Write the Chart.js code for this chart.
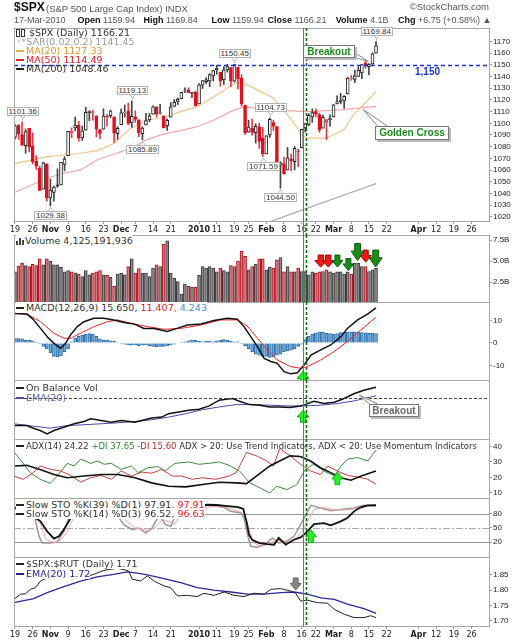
<!DOCTYPE html>
<html>
<head>
<meta charset="utf-8">
<title>$SPX daily</title>
<script src="https://cdn.jsdelivr.net/npm/chart.js@4.4.1/dist/chart.umd.min.js"></script>
<style>
body{margin:0;width:529px;height:640px;position:relative;overflow:hidden;background:#fff;font-family:"DejaVu Sans",Verdana,sans-serif;color:#333}
canvas.pn{position:absolute;left:0;z-index:1}
#overlay{position:absolute;left:0;top:0;z-index:2;pointer-events:none}
.t,.h{position:absolute;white-space:nowrap;z-index:3}
.t{font-size:9.5px;line-height:11px}
.bg span{background:#fff}
.h{font-family:"Liberation Sans",Arial,sans-serif;font-size:9.5px;line-height:11px;color:#555}
.r2{font-size:9px}
.h b{color:#111}
.d{display:inline-block;width:8px;height:2px;vertical-align:middle;margin:0 2px 1px 0}
.ci{display:inline-block;width:2px;height:6px;border:1px solid #333;margin-right:1px;vertical-align:-1px;background:#fff}
.vb{display:inline-block;width:2px;background:#444;margin-right:1px;vertical-align:-1px}
.call{position:absolute;z-index:3;background:#fff;border:1px solid #777;box-shadow:2px 2px 0 #bbb;font:bold 10px "Liberation Sans",Arial,sans-serif;line-height:11px;text-align:center;box-sizing:border-box}
.pk{position:absolute;z-index:3;background:#fff;border:1px solid #b4b4b4;font:8px "Liberation Sans",Arial,sans-serif;line-height:7px;padding:0 1px;color:#333}
</style>
</head>
<body>
<canvas class="pn" id="cPrice" width="529" height="207" style="top:28px"></canvas>
<canvas class="pn" id="cVol" width="529" height="68" style="top:235px"></canvas>
<canvas class="pn" id="cMacd" width="529" height="79" style="top:302px"></canvas>
<canvas class="pn" id="cObv" width="529" height="60" style="top:380px"></canvas>
<canvas class="pn" id="cAdx" width="529" height="60" style="top:439px"></canvas>
<canvas class="pn" id="cSto" width="529" height="60" style="top:498px"></canvas>
<canvas class="pn" id="cRatio" width="529" height="83" style="top:557px"></canvas>
<canvas id="overlay" width="529" height="640"></canvas>

<div class="h" style="left:14px;top:1px;font-weight:bold;font-size:12px;line-height:13px;color:#111">$SPX</div>
<div class="h" style="left:46px;top:3px">(S&amp;P 500 Large Cap Index) INDX</div>
<div class="h" style="right:40px;top:1px">&copy;StockCharts.com</div>
<div class="h r2" style="left:14px;top:15px">17-Mar-2010</div>
<div class="h r2" style="left:77.6px;top:15px"><b>Open</b> 1159.94</div>
<div class="h r2" style="left:143.4px;top:15px"><b>High</b> 1169.84</div>
<div class="h r2" style="left:211.5px;top:15px"><b>Low</b> 1159.94</div>
<div class="h r2" style="left:267.5px;top:15px"><b>Close</b> 1166.21</div>
<div class="h r2" style="left:335.7px;top:15px"><b>Volume</b> 4.1B</div>
<div class="h r2" style="left:398px;top:15px"><b>Chg</b> +6.75 (+0.58%) &#9650;</div>

<div class="t" style="left:16px;top:26.5px"><i class="ci"></i><i class="ci"></i> $SPX (Daily) 1166.21</div>
<div class="t" style="left:16px;top:35.5px;color:#999">&#9702;*SAR(0.02,0.2) 1141.45</div>
<div class="t" style="left:16px;top:44.5px;color:#d9952e"><i class="d" style="background:#e8a850"></i>MA(20) 1127.33</div>
<div class="t" style="left:16px;top:53.5px;color:#e0202a"><i class="d" style="background:#e0202a"></i>MA(50) 1114.49</div>
<div class="t" style="left:16px;top:62.5px"><i class="d" style="background:#222"></i>MA(200) 1048.46</div>

<div class="t bg" style="left:16px;top:234.5px"><span><i class="vb" style="height:4px"></i><i class="vb" style="height:7px"></i><i class="vb" style="height:5px"></i>Volume 4,125,191,936</span></div>
<div class="t bg" style="left:16px;top:302px"><span><i class="d" style="background:#222"></i>MACD(12,26,9) 15.650, <b style="font-weight:normal;color:#e02020">11.407,</b> <b style="font-weight:normal;color:#4a90d0">4.243</b></span></div>
<div class="t" style="left:16px;top:382px"><i class="d" style="background:#222"></i>On Balance Vol</div>
<div class="t" style="left:16px;top:391.5px;color:#5a66b0"><i class="d" style="background:#4a4aa8"></i>EMA(20)</div>
<div class="t" style="left:16px;top:441px;font-size:8.5px"><i class="d" style="background:#222"></i>ADX(14) 24.22 <span style="color:#2f8a2f">+DI 37.65</span> <span style="color:#b03030">-DI 15.60</span> ADX &gt; 20: Use Trend Indicators, ADX &lt; 20: Use Momentum Indicators</div>
<div class="t bg" style="left:16px;top:498.5px"><span><i class="d" style="background:#222"></i>Slow STO %K(39) %D(1) 97.91, <b style="font-weight:normal;color:#e02020">97.91</b></span></div>
<div class="t bg" style="left:16px;top:507.5px"><span><i class="d" style="background:#222"></i>Slow STO %K(14) %D(3) 96.52, <b style="font-weight:normal;color:#e02020">96.63</b></span></div>
<div class="t bg" style="left:16px;top:557.5px"><span><i class="d" style="background:#222"></i>$SPX:$RUT (Daily) 1.71</span></div>
<div class="t bg" style="left:16px;top:567.5px;color:#22229a"><span><i class="d" style="background:#22229a"></i>EMA(20) 1.72</span></div>
<div class="h" style="left:415px;top:66px;font-weight:bold;color:#1a35d0;font-size:10px">1,150</div>

<script>
// trading days shown (index 0 = Oct 19, 2009)
const dates = ('Oct 19,Oct 20,Oct 21,Oct 22,Oct 23,Oct 26,Oct 27,Oct 28,Oct 29,Oct 30,' +
  'Nov 2,Nov 3,Nov 4,Nov 5,Nov 6,Nov 9,Nov 10,Nov 11,Nov 12,Nov 13,Nov 16,Nov 17,Nov 18,Nov 19,Nov 20,Nov 23,Nov 24,Nov 25,Nov 27,Nov 30,' +
  'Dec 1,Dec 2,Dec 3,Dec 4,Dec 7,Dec 8,Dec 9,Dec 10,Dec 11,Dec 14,Dec 15,Dec 16,Dec 17,Dec 18,Dec 21,Dec 22,Dec 23,Dec 24,Dec 28,Dec 29,Dec 30,Dec 31,' +
  'Jan 4,Jan 5,Jan 6,Jan 7,Jan 8,Jan 11,Jan 12,Jan 13,Jan 14,Jan 15,Jan 19,Jan 20,Jan 21,Jan 22,Jan 25,Jan 26,Jan 27,Jan 28,Jan 29,' +
  'Feb 1,Feb 2,Feb 3,Feb 4,Feb 5,Feb 8,Feb 9,Feb 10,Feb 11,Feb 12,Feb 16,Feb 17,Feb 18,Feb 19,Feb 22,Feb 23,Feb 24,Feb 25,Feb 26,' +
  'Mar 1,Mar 2,Mar 3,Mar 4,Mar 5,Mar 8,Mar 9,Mar 10,Mar 11,Mar 12,Mar 15,Mar 16,Mar 17').split(',');

const prevClose = 1087.68;
const opens = [1088.2,1098.6,1090.4,1080.9,1095.6,1080.4,1067.5,1061.5,1043.7,1065.4,
  1036.2,1040.9,1047.1,1047.3,1064.9,1072.3,1091.9,1096.0,1098.3,1087.6,1094.1,1109.2,1109.4,1106.4,1094.7,1094.9,1106.0,1106.5,1105.5,1091.1,
  1098.9,1109.0,1110.6,1100.4,1105.5,1103.0,1091.1,1098.7,1103.0,1107.8,1114.1,1108.6,1106.4,1097.9,1105.3,1114.5,1118.8,1121.1,1127.5,1128.6,1125.5,1126.6,
  1116.6,1132.7,1135.7,1136.3,1140.5,1145.9,1143.8,1137.3,1145.7,1147.7,1136.0,1147.9,1138.7,1115.5,1092.4,1095.8,1091.9,1096.9,1087.6,
  1073.9,1090.1,1100.7,1097.3,1064.1,1065.5,1060.1,1069.7,1067.1,1075.9,1079.1,1096.1,1099.0,1105.5,1110.0,1107.5,1095.9,1101.2,1103.1,
  1105.4,1117.0,1119.4,1119.1,1125.1,1138.4,1137.6,1140.2,1143.0,1151.7,1148.5,1150.8,1159.94];
const highs = [1099.0,1098.6,1101.36,1095.2,1095.8,1091.8,1072.5,1063.3,1066.8,1065.4,
  1052.2,1046.4,1061.0,1066.7,1071.5,1093.2,1096.1,1105.4,1101.7,1097.6,1113.7,1110.8,1111.1,1106.4,1094.7,1112.4,1107.6,1111.2,1105.5,1097.2,
  1112.3,1115.6,1117.3,1119.13,1110.7,1103.0,1097.0,1108.5,1108.5,1114.9,1114.1,1116.2,1106.4,1103.7,1117.7,1120.3,1121.6,1126.5,1130.4,1130.4,1126.4,1127.6,
  1133.9,1136.6,1139.2,1142.5,1145.4,1149.7,1143.8,1148.4,1150.4,1147.8,1150.45,1147.9,1141.6,1115.5,1102.6,1103.7,1099.5,1100.2,1096.5,
  1089.4,1104.73,1102.7,1097.3,1067.1,1071.2,1079.3,1073.7,1080.0,1077.8,1095.0,1100.1,1108.2,1112.4,1112.3,1108.6,1107.0,1103.5,1107.2,
  1116.1,1123.5,1125.6,1123.7,1139.4,1141.1,1145.4,1148.3,1150.2,1153.4,1151.0,1160.3,1169.84];
const lows = [1086.5,1086.2,1080.8,1074.3,1075.5,1065.2,1060.6,1042.2,1043.7,1033.4,
  1029.38,1033.4,1045.2,1047.3,1059.3,1072.3,1087.7,1093.8,1084.7,1085.3,1094.1,1102.2,1102.7,1088.4,1086.8,1094.9,1097.6,1104.8,1083.7,1086.3,
  1098.9,1105.3,1098.7,1096.5,1100.8,1088.6,1085.89,1098.7,1101.3,1107.8,1105.4,1107.9,1095.9,1093.9,1105.3,1114.5,1116.0,1121.1,1126.1,1126.2,1121.9,1114.8,
  1116.6,1129.7,1133.9,1131.3,1136.2,1142.0,1131.8,1133.2,1143.8,1131.4,1135.2,1129.3,1114.8,1090.2,1092.4,1089.9,1083.1,1078.5,1071.59,
  1073.9,1088.0,1093.9,1062.8,1044.5,1056.5,1060.1,1059.3,1060.1,1063.0,1079.1,1092.6,1097.8,1100.8,1105.4,1092.2,1095.9,1086.0,1097.6,
  1105.4,1116.5,1116.6,1112.7,1125.1,1136.8,1134.9,1140.1,1138.1,1147.0,1141.5,1150.3,1159.94];
const closes = [1097.9,1091.1,1081.4,1092.9,1079.6,1067.0,1063.4,1042.6,1066.1,1036.2,
  1042.9,1045.4,1046.5,1066.6,1069.3,1093.1,1093.0,1098.5,1087.2,1093.5,1109.3,1110.3,1109.8,1094.9,1091.4,1106.2,1105.7,1110.6,1091.5,1095.6,
  1108.9,1109.2,1099.9,1106.0,1103.3,1091.9,1096.0,1102.4,1106.4,1114.1,1107.9,1109.2,1096.1,1102.5,1114.1,1118.0,1120.6,1126.5,1127.8,1126.2,1126.4,1115.1,
  1133.0,1136.5,1137.1,1141.7,1145.0,1147.0,1136.2,1145.7,1148.5,1136.0,1150.2,1138.0,1116.5,1091.8,1096.8,1092.2,1097.5,1084.5,1073.9,
  1089.2,1103.3,1097.3,1063.1,1066.2,1056.7,1070.5,1068.1,1078.5,1075.5,1094.9,1099.5,1106.8,1109.2,1108.0,1094.6,1105.2,1102.9,1104.5,
  1115.7,1118.3,1118.8,1123.0,1138.7,1138.5,1140.5,1145.6,1150.2,1150.0,1150.5,1159.5,1166.21];
// volume, billions of shares
const volumes = [3.7,4.4,4.75,4.45,4.35,4.6,4.45,5.25,4.55,5.25,
  5.0,4.55,4.55,4.25,3.7,3.85,3.7,3.6,3.45,3.15,
  3.85,3.35,3.55,3.7,3.85,3.35,3.3,3.05,2.0,3.45,
  3.55,3.35,4.35,5.25,3.55,4.1,3.55,3.55,3.15,4.15,
  4.55,4.35,7.0,7.4,3.55,2.95,2.55,1.05,2.25,2.0,
  1.9,1.9,3.3,4.35,4.15,4.35,4.15,3.7,4.15,3.85,
  3.7,4.45,4.35,5.0,6.15,5.55,3.95,4.35,4.65,5.25,
  5.25,3.95,4.25,4.15,5.15,5.4,3.7,4.35,3.7,3.7,
  4.15,3.75,3.75,3.35,3.7,3.55,3.7,3.75,3.95,3.7,
  3.55,3.7,3.7,3.45,3.7,3.45,4.75,4.75,4.35,4.35,
  3.75,3.95,4.13];

// overlays as [day index, value]
const ma20Pts = [[-0.3,1065.2],[9.1,1071.5],[13.8,1072.9],[18.5,1074.4],[23.2,1076.6],[28,1082.9],[32.7,1095.7],[37.4,1102.8],[42.1,1105.2],[46.8,1110],[51.5,1114.2],[56.2,1122.8],[60.9,1131.9],[63.5,1136],[68.3,1128.8],[73,1121.7],[77.7,1104.6],[81,1090.3],[82.5,1087.4],[87.2,1087.4],[89.1,1088.9],[92.9,1094.5],[95.7,1107.4],[98.5,1115.9],[102,1127.33]];
const ma50Pts = [[-0.3,1040.7],[9.1,1053],[13.8,1057.3],[18.5,1060.1],[23.2,1068.6],[28,1073.8],[32.7,1078.6],[37.4,1086.3],[42.1,1090.9],[46.8,1093.7],[51.5,1097.1],[56.2,1102.8],[60.9,1110],[64.5,1114],[68,1113],[73,1111.5],[82,1110],[92,1111.5],[102,1114.49]];
const ma200Pts = [[70,1013.6],[82,1026.8],[92,1037.6],[102,1048.46]];

const macdPts = [[-0.3,13.2],[3.4,12.9],[5.3,10.3],[7.2,6.5],[9.1,2.8],[11,-0.2],[12.9,-2.4],[14.3,-0.2],[15.7,3.6],[17.6,7.3],[19.5,9.5],[22.3,11],[25.1,11],[27.9,10.3],[30.8,9.1],[33.6,8.5],[36.4,6.5],[39.3,6.5],[43,5.1],[45.8,6.5],[48.7,8],[52.5,8.5],[56.2,10],[60,11],[62.8,10.6],[64.7,7.3],[66.6,2.8],[68.5,-1.6],[70.4,-6.9],[72.3,-8.3],[74.1,-9.1],[76,-12.8],[77.9,-13.8],[79.8,-13.3],[81.7,-9.8],[83.6,-5.4],[86.4,-3.1],[89.2,-0.9],[92.1,2.8],[93.9,6.5],[96.8,10.3],[99.6,12.9],[102,15.65]];
const signalPts = [[-0.3,13.2],[3.4,12.9],[7.2,9.5],[11,4.3],[13.8,2.1],[15.7,2.1],[18.5,4.3],[22.3,7.3],[26.1,9.5],[28.9,10.3],[32.7,8.8],[37.4,7.3],[42.1,6.1],[46.8,6.5],[52.5,8],[58.1,10.3],[62.8,10.3],[65.6,7.6],[68.5,2.1],[71.3,-3.1],[74.1,-7.6],[77.9,-10.6],[80.7,-11.3],[82.6,-10.6],[86.4,-7.6],[90.1,-3.9],[93.9,0.6],[97.7,5.8],[100.5,9.5],[102,11.407]];
const histVals = [2.0,2.0,1.8,1.3,1.2,1.0,0.4,-0.3,-1.5,-2.5,
  -4.5,-6.0,-6.2,-5.8,-4.0,-2.5,0.5,2.2,3.0,3.5,
  4.0,4.2,4.0,3.0,1.8,1.2,1.2,1.0,0.8,0.2,
  -0.2,-0.5,-0.8,-1.0,-0.9,-1.2,-1.0,-0.9,-1.2,-1.5,
  -1.7,-1.5,-1.6,-1.2,-0.8,-0.5,0.0,0.3,0.5,1.0,
  1.3,1.2,0.8,0.5,0.7,0.8,0.5,0.9,1.2,1.5,
  1.2,0.8,0.3,0.5,-0.2,-1.2,-2.5,-4.0,-5.0,-5.5,
  -6.0,-6.0,-6.5,-6.2,-5.5,-5.0,-4.0,-3.5,-3.2,-2.5,
  -1.5,-0.5,1.5,3.0,4.0,4.5,5.0,4.8,4.3,4.2,
  4.0,4.2,4.6,4.8,4.9,5.0,5.0,4.8,4.6,4.5,
  4.3,4.3,4.243];

// OBV has no printed scale: values are relative (0 = panel bottom, 100 = near top)
const obvPts = [[-0.3,24.6],[3.3,24.6],[5.2,20],[7.1,16],[9.1,10.3],[11,16],[13.8,21.7],[16.7,27.5],[19.5,31.4],[21.4,36],[24.3,33.2],[27.2,30.3],[30,33.2],[33.9,30.3],[35.8,33.2],[38.6,37.1],[41.5,38.8],[43.4,44.6],[46.3,47.5],[49.1,50.3],[52,52],[54.9,57.8],[57.7,67.5],[59.6,69.2],[61.5,70.3],[63.4,65.8],[66.3,60],[69.2,59],[72,56],[74.8,56],[77.7,55],[80.6,57.8],[82,60],[84.4,65.8],[87.3,61.7],[90.2,64],[93,70.3],[95.9,78.8],[98.8,84.6],[102,89.5]];
const obvEmaPts = [[-0.3,27.5],[5.2,23.4],[10,20],[14.8,24.6],[19.5,25.8],[24.3,27.5],[29.1,29.2],[33.9,31.4],[38.6,34.3],[43.4,38.8],[48.2,44.6],[53,51.4],[57.7,56],[62.5,60],[67.3,60],[72,59],[76.8,57.8],[81.5,57.8],[86.3,59],[91,61.7],[95.9,66.4],[102,75]];

const adxPts = [[-0.3,27.4],[3.3,27.8],[7.1,25.2],[11,21.9],[14.8,19.8],[19.5,20.9],[24.3,21.9],[29.1,21.9],[33.9,19.8],[38.6,16.5],[43.4,14.3],[48.2,13.9],[53,15.4],[57.7,16.9],[62.5,16.5],[65.4,16],[68.2,20.9],[72,27.4],[74.8,30.6],[77.7,33.9],[80.6,33.5],[83.5,30.6],[86.3,26.3],[89.2,23.1],[92.1,19.8],[94.9,18.2],[97.8,20.9],[102,24.22]];
const plusDiPts = [[-0.3,36.5],[1.4,31.8],[4.3,23.1],[7.1,18.8],[10,16.2],[11.9,20.9],[14.8,29.1],[16.7,27.4],[18.6,31.8],[21.4,29.1],[23.3,30.6],[25.2,28.5],[27.2,29.1],[30,25.2],[32.9,27.4],[34.8,23.1],[37.6,26.3],[40.5,27],[42.4,24.2],[45.2,29.1],[49.1,30],[51.9,28.5],[54.8,29.1],[57.7,30],[60.5,27.8],[63.4,24.2],[66.3,16.5],[69.2,13.3],[72,10],[73.9,14.3],[76.8,12.2],[79.6,15.4],[82,25.2],[84.4,28.5],[87.3,24.2],[90.2,20.9],[92.1,27.4],[94,31.8],[96.8,32.8],[99.7,30.6],[102,37.65]];
const minusDiPts = [[-0.3,20.9],[2.3,18.8],[5.2,23.1],[7.1,27.4],[10,25.2],[12.9,24.2],[15.7,21.3],[18.6,17],[21.4,19.8],[24.3,21.3],[27.2,18.8],[30,24.2],[32.9,20.9],[35.8,23.5],[38.6,22.7],[41.5,25.2],[44.4,20.9],[47.2,20.9],[50.1,18.8],[53,19.8],[56.8,18.8],[60.5,20.9],[62.5,23.1],[65.4,36.1],[68.2,34],[71.1,30.6],[73,27.4],[74.8,38.7],[77.7,34],[80.6,28.5],[83.5,24.2],[86.3,21.9],[88.3,27.4],[91,24.2],[94,21.3],[96.8,20.3],[99.7,18.8],[102,15.6]];

const k39Pts = [[-0.3,92],[3,88],[5.8,70.9],[7.2,63.8],[9.1,42.6],[11,27.1],[12.4,32],[13.8,46.2],[15.2,63.8],[16.6,81.5],[19,90],[22,94],[25,92],[28,86],[30.5,76],[33,73],[36,70],[38.5,72],[41,80],[44,81.5],[45.9,92],[49,95],[52,97],[54.3,99],[57,98.5],[60,96],[63,94],[64.5,90],[65.5,60],[66.1,35.5],[67,24.9],[69,17.8],[71.3,15.7],[73.2,14.3],[74.5,28.5],[76.5,14.3],[78.8,24.9],[80.7,29.9],[82.6,42.6],[84.5,58.1],[87.3,60.2],[89.2,55.3],[92,63.8],[93.9,70.9],[95.8,85],[97.7,93.5],[99.6,97.5],[102,97.91]];
const k14Pts = [[-0.3,95],[3,90],[5.3,81.5],[6.8,32],[7.7,17.8],[10,17.8],[11.9,20],[13.8,42.6],[15.2,70.9],[16.5,85],[20,92],[24,95],[28,85],[30.8,56.9],[33.1,46.2],[35,49.8],[36.9,39.2],[38.8,49.8],[40.7,78],[42.5,56.9],[44,53.4],[45.9,85],[48,92],[51,88.8],[52.5,85],[54.3,99],[57,96],[59,93.5],[60.9,85],[63.8,81.5],[64.7,70.9],[65.7,35.5],[66.6,10.9],[68.5,8.8],[70.5,14.3],[72.7,28.5],[74.6,17.8],[77,22.7],[78.8,32],[80.7,56.9],[82.2,78],[83.6,97.8],[86.4,92.1],[89.2,86.5],[92,88.8],[95.8,92.1],[98.6,97.8],[102,96.52]];
const d3Pts = [[-0.3,93],[4,90],[6.3,78],[7.8,45],[8.8,25],[11,18.5],[12.9,24],[14.8,43],[16.2,65],[17.5,82],[21,91],[25,94],[29,83],[31.8,62],[34,50],[36,47],[37.9,43],[39.8,52],[41.7,68],[43.5,63],[45,58],[46.9,78],[49,90],[52,89],[53.5,88],[55.3,95],[58,96],[60,93],[62,88],[64.7,80],[65.7,60],[66.6,35],[67.5,18],[69.5,11],[71.5,15],[73.7,24],[75.6,22],[78,22],[79.8,30],[81.7,50],[83.2,72],[84.6,90],[87.4,93],[90.2,88],[93,88],[96.8,91],[99.6,96],[102,96.63]];

const ratioPts = [[-0.3,1.770],[1.6,1.787],[3,1.788],[4.4,1.803],[5.8,1.808],[7.2,1.830],[9,1.84],[12,1.845],[15,1.86],[18.5,1.874],[19.9,1.844],[22.3,1.852],[24.6,1.863],[26.5,1.868],[29,1.872],[31.2,1.866],[32.2,1.862],[33.1,1.836],[35.5,1.830],[37.4,1.847],[39.3,1.830],[42.1,1.814],[44,1.808],[45.9,1.781],[48.7,1.783],[51.5,1.779],[53.4,1.790],[56.2,1.783],[59.1,1.794],[61.9,1.783],[64.7,1.779],[67.5,1.790],[70.4,1.787],[72.3,1.803],[75.1,1.805],[77.9,1.797],[79.3,1.790],[80.7,1.764],[82.6,1.767],[85.5,1.759],[88.3,1.757],[90.2,1.737],[93,1.721],[95.8,1.710],[98.6,1.710],[100.5,1.716],[102,1.71]];
const ratioEmaPts = [[-0.3,1.759],[5.3,1.772],[9.1,1.792],[13.8,1.812],[18.5,1.830],[23.2,1.844],[27.9,1.852],[31.7,1.860],[34.5,1.856],[37.4,1.850],[42.1,1.838],[46.8,1.825],[51.5,1.808],[56.2,1.800],[61,1.794],[65.7,1.787],[70.4,1.787],[75.1,1.792],[78.8,1.794],[82.6,1.787],[86.4,1.775],[90.2,1.770],[93.9,1.754],[98.6,1.739],[102,1.724]];

// axis labels
const dateTickIdx = [0,5,10,15,20,25,30,34,39,44,52,57,62,66,71,76,81,85,90,95,100,105,114,119,124,129];
const dateTickLabels = ['19','26','Nov','9','16','23','Dec','7','14','21','2010','11','19','25','Feb','8','16','22','Mar','8','15','22','Apr','12','19','26'];
const priceTicks = [1020,1030,1040,1050,1060,1070,1080,1090,1100,1110,1120,1130,1140,1150,1160,1170];
const volTicks = [2.5,5,7.5];
const macdTicks = [-10,0,10];
const adxTicks = [10,20,30,40];
const stoTicks = [20,50,80];
const ratioTicks = [1.70,1.75,1.80,1.85];

// labelled highs / lows
const peakIdx = [2,10,33,36,62,70,72,75,102];
const peakVals = [1101.36,1029.38,1119.13,1085.89,1150.45,1071.59,1104.73,1044.50,1169.84];
const peakSide = ['hi','lo','hi','lo','hi','lo','hi','lo','hi'];

// annotations
const eventLines = [{x:81.4,color:'#3a9a3a',w:1,dash:[]},{x:82.2,color:'#0e6e0e',w:1.6,dash:[3,2]}];
const green = {color:'#1a8c1a',edge:'#0c5c0c'}, red = {color:'#f01818',edge:'#b00000'}, lime = {color:'#2bee2b',edge:'#18b018'}, grey = {color:'#858585',edge:'#666'};
const volArrows = [
  {x:86.4,y:4.28,dir:'down',w:12,h:12,...red},{x:88.5,y:4.28,dir:'down',w:12,h:12,...red},
  {x:91.1,y:4.28,dir:'down',w:11,h:12,...green},{x:94.2,y:3.87,dir:'down',w:11,h:12,...green},
  {x:96.8,y:5.06,dir:'down',w:13,h:17,...green},{x:99.1,y:4.87,dir:'down',w:11,h:12,...red},
  {x:101.9,y:4.28,dir:'down',w:13,h:17,...green}];
const macdArrows = [{x:81.4,y:-12.5,dir:'up',w:12,h:14,...lime}];
const obvArrows = [{x:81.4,y:50.3,dir:'up',w:12,h:12,...lime}];
const adxArrows = [{x:91.1,y:23.4,dir:'up',w:11,h:12.5,...lime}];
const stoArrows = [{x:83.6,y:46.1,dir:'up',w:11,h:13,...lime}];
const ratioArrows = [{x:79.3,y:1.8007,dir:'down',w:11,h:12,...grey}];

const xMin = -0.28, xMax = 134.2;

function blockArrow(ctx, px, py, a) {
  const hh = a.h * 0.55, sw = a.w * 0.45, d = a.dir === 'up' ? -1 : 1;
  ctx.beginPath();
  ctx.moveTo(px, py);
  ctx.lineTo(px - a.w / 2, py - d * hh);
  ctx.lineTo(px - sw / 2, py - d * hh);
  ctx.lineTo(px - sw / 2, py - d * a.h);
  ctx.lineTo(px + sw / 2, py - d * a.h);
  ctx.lineTo(px + sw / 2, py - d * hh);
  ctx.lineTo(px + a.w / 2, py - d * hh);
  ctx.closePath();
  ctx.fillStyle = a.color; ctx.fill();
  ctx.strokeStyle = a.edge; ctx.lineWidth = 1; ctx.stroke();
}

function levels(chart, o, over) {
  const { ctx, chartArea: r, scales: { y } } = chart;
  (o.levels || []).filter(l => !!l.over === over).forEach(l => {
    const py = Math.round(y.getPixelForValue(l.v)) + 0.5;
    ctx.save();
    ctx.strokeStyle = l.color; ctx.lineWidth = l.w; ctx.setLineDash(l.dash || []);
    ctx.beginPath(); ctx.moveTo(r.left, py); ctx.lineTo(r.right, py); ctx.stroke();
    ctx.restore();
  });
}

const decor = {
  id: 'decor',
  beforeDatasetsDraw(chart, args, o) { levels(chart, o, false); },
  afterDatasetsDraw(chart, args, o) {
    levels(chart, o, true);
    const { ctx, chartArea: r, scales: { x, y } } = chart;
    ctx.save();
    ctx.beginPath(); ctx.rect(r.left, r.top, r.right - r.left, r.bottom - r.top); ctx.clip();
    (o.arrows || []).forEach(a => blockArrow(ctx, x.getPixelForValue(a.x), y.getPixelForValue(a.y), a));
    ctx.restore();
    ctx.save();
    ctx.strokeStyle = '#a8a8a8'; ctx.lineWidth = 1;
    ctx.strokeRect(r.left + 0.5, r.top + 0.5, r.right - r.left - 1, r.bottom - r.top - 1);
    const yEnd = o.toArea ? r.bottom : chart.height;
    eventLines.forEach(ev => {
      const px = Math.round(x.getPixelForValue(ev.x)) + 0.5;
      ctx.strokeStyle = ev.color; ctx.lineWidth = ev.w; ctx.setLineDash(ev.dash);
      ctx.beginPath(); ctx.moveTo(px, 0); ctx.lineTo(px, yEnd); ctx.stroke();
    });
    ctx.restore();
  }
};

function xAxis(show) {
  return {
    type: 'linear', min: xMin, max: xMax, offset: false, display: show,
    grid: { display: show, offset: false, drawOnChartArea: false, drawTicks: true, tickLength: 2, color: '#9a9a9a' },
    border: { display: false },
    ticks: {
      autoSkip: false, maxRotation: 0, minRotation: 0, padding: 1, color: '#222',
      font: c => ({ family: 'DejaVu Sans', size: 8,
        weight: isNaN(dateTickLabels[c.index]) || dateTickLabels[c.index] === '2010' ? 'bold' : 'normal' }),
      callback: (v, i) => dateTickLabels[i]
    },
    afterBuildTicks: s => { s.ticks = dateTickIdx.map(v => ({ value: v })); },
    afterFit: s => { s.height = show ? 13 : 0; s.paddingLeft = 0; s.paddingRight = 0; }
  };
}

function yAxis(min, max, ticks, fmt, show = true) {
  return {
    position: 'right', min: min, max: max,
    grid: { display: show, drawOnChartArea: false, drawTicks: true, tickLength: 2, color: '#9a9a9a' },
    border: { display: false },
    ticks: { display: show, padding: 1, color: '#222', font: { family: 'Liberation Sans', size: 8 }, callback: fmt || (v => v) },
    afterBuildTicks: s => { s.ticks = ticks.map(v => ({ value: v })); },
    afterFit: s => { s.width = 39; s.paddingTop = 0; s.paddingBottom = 0; }
  };
}

function line(pts, color, w, order) {
  return { type: 'line', data: pts.map(p => ({ x: p[0], y: p[1] })), borderColor: color, borderWidth: w,
    pointRadius: 0, tension: 0, fill: false, order: order || 4 };
}

function mk(id, datasets, y, showDates, deco) {
  return new Chart(document.getElementById(id), {
    type: 'line',
    data: { datasets: datasets },
    options: {
      animation: false, responsive: false, events: [],
      layout: { padding: { left: 14, right: 0, top: 0, bottom: 0 } },
      scales: { x: xAxis(showDates), y: y },
      plugins: { legend: { display: false }, tooltip: { enabled: false }, decor: deco }
    },
    plugins: [decor]
  });
}

const upDay = closes.map((c, i) => c >= (i ? closes[i - 1] : prevClose));
const candleCol = upDay.map(u => u ? '#222' : '#e0101e');

const price = mk('cPrice', [
  { type: 'bar', data: highs.map((h, i) => ({ x: i, y: [lows[i], h] })), backgroundColor: upDay.map(u => u ? '#444' : '#e83848'),
    barThickness: 1, grouped: false, order: 3 },
  { type: 'bar', data: opens.map((o, i) => ({ x: i, y: [o, closes[i]] })),
    backgroundColor: closes.map((c, i) => c >= opens[i] ? '#fff' : candleCol[i]), borderColor: candleCol,
    borderWidth: 1, borderSkipped: false, barThickness: 3, grouped: false, order: 2 },
  line(ma20Pts, '#f2c488', 1.2, 5), line(ma50Pts, '#f4a8a8', 1.2, 5), line(ma200Pts, '#a8a8a8', 1.2, 5)
], yAxis(1015.6, 1181.5, priceTicks), true, { levels: [{ v: 1150, color: '#1a30d8', w: 1.6, dash: [4, 3], over: true }] });

mk('cVol', [
  { type: 'bar', data: volumes.map((v, i) => ({ x: i, y: v })), backgroundColor: upDay.map(u => u ? '#8a8a8a' : '#d9797f'),
    borderColor: upDay.map(u => u ? '#3a3a3a' : '#b01020'), borderWidth: 1, barThickness: 3, grouped: false }
], yAxis(0, 8.1, volTicks, v => v.toFixed(1) + 'B'), false, { arrows: volArrows });

mk('cMacd', [
  line(macdPts, '#111', 1.5, 1), line(signalPts, '#ff2020', 1, 2),
  { type: 'bar', data: histVals.map((v, i) => ({ x: i, y: v })), backgroundColor: '#6ea7d8', borderColor: '#2f6fa8',
    borderWidth: 1, barThickness: 3, grouped: false, order: 3 }
], yAxis(-17, 18.3, macdTicks), false, { arrows: macdArrows });

const obv = mk('cObv', [line(obvPts, '#111', 1.5, 1), line(obvEmaPts, '#4a4aa8', 1, 2)],
  yAxis(0, 101.7, [50], null, false), false,
  { arrows: obvArrows, levels: [{ v: 72, color: '#444', w: 1, dash: [3, 2], over: true }] });

mk('cAdx', [line(adxPts, '#111', 1.6, 1), line(plusDiPts, '#3c8c3c', 1, 2), line(minusDiPts, '#c83c3c', 1, 3)],
  yAxis(6.1, 44.8, adxTicks), false, { arrows: adxArrows });

mk('cSto', [line(k39Pts, '#111', 1.8, 1), line(k14Pts, '#999', 1.5, 3), line(d3Pts, '#f5a0a0', 1, 2)],
  yAxis(-13.9, 113.3, stoTicks), false,
  { arrows: stoArrows, levels: [{ v: 80, color: '#999', w: 1.2 }, { v: 20, color: '#999', w: 1.2 }, { v: 50, color: '#aaa', w: 1, dash: [7, 2, 2, 2] }] });

mk('cRatio', [line(ratioPts, '#222', 1, 1), line(ratioEmaPts, '#2a2a9a', 1.3, 2)],
  yAxis(1.679, 1.909, ratioTicks, v => v.toFixed(2)), true, { arrows: ratioArrows, toArea: true });

// labels for marked highs/lows and callout boxes (real text over the canvases)
const og = document.getElementById('overlay').getContext('2d');
const priceTop = 28, obvTop = 380;
peakIdx.forEach((pi, k) => {
  const px = Math.round(price.scales.x.getPixelForValue(pi)) + 0.5;
  const py = priceTop + price.scales.y.getPixelForValue(peakVals[k]);
  const hi = peakSide[k] === 'hi';
  const el = document.createElement('div');
  el.className = 'pk'; el.textContent = peakVals[k].toFixed(2);
  document.body.appendChild(el);
  const w = el.offsetWidth, h = el.offsetHeight;
  const top = hi ? py - 6 - h : py + 5;
  el.style.left = (px - w / 2) + 'px'; el.style.top = top + 'px';
  const ey = hi ? top + h : top, d = hi ? 1 : -1;
  og.strokeStyle = '#b4b4b4'; og.lineWidth = 1;
  og.beginPath(); og.moveTo(px, hi ? py - 1 : py + 1); og.lineTo(px, ey); og.stroke();
  og.fillStyle = '#fff';
  og.beginPath(); og.moveTo(px - 3.5, ey - d); og.lineTo(px, ey + 3 * d); og.lineTo(px + 3.5, ey - d); og.closePath();
  og.fill(); og.stroke();
});

const callouts = [
  { text: 'Breakout', color: '#1b8a1b', box: [303, 45, 52, 13], chart: price, top: priceTop, tip: [99.8, 1153], base: [[349, 49], [349, 56]] },
  { text: 'Golden Cross', color: '#1b8a1b', box: [375, 126, 74, 14], chart: price, top: priceTop, tip: [98.4, 1111.7], base: [[381, 130], [393, 130]] },
  { text: 'Breakout', color: '#6a6a6a', box: [369, 404, 50, 13], chart: obv, top: obvTop, tip: [97.3, 76], base: [[374, 408], [386, 408]] }
];
callouts.forEach(c => {
  const tx = c.chart.scales.x.getPixelForValue(c.tip[0]);
  const ty = c.top + c.chart.scales.y.getPixelForValue(c.tip[1]);
  og.fillStyle = '#fff'; og.strokeStyle = '#888'; og.lineWidth = 1;
  og.beginPath(); og.moveTo(c.base[0][0], c.base[0][1]); og.lineTo(tx, ty); og.lineTo(c.base[1][0], c.base[1][1]); og.closePath();
  og.fill(); og.stroke();
  const el = document.createElement('div');
  el.className = 'call'; el.textContent = c.text; el.style.color = c.color;
  el.style.left = c.box[0] + 'px'; el.style.top = c.box[1] + 'px';
  el.style.width = c.box[2] + 'px'; el.style.height = c.box[3] + 'px';
  document.body.appendChild(el);
});
</script>
</body>
</html>
